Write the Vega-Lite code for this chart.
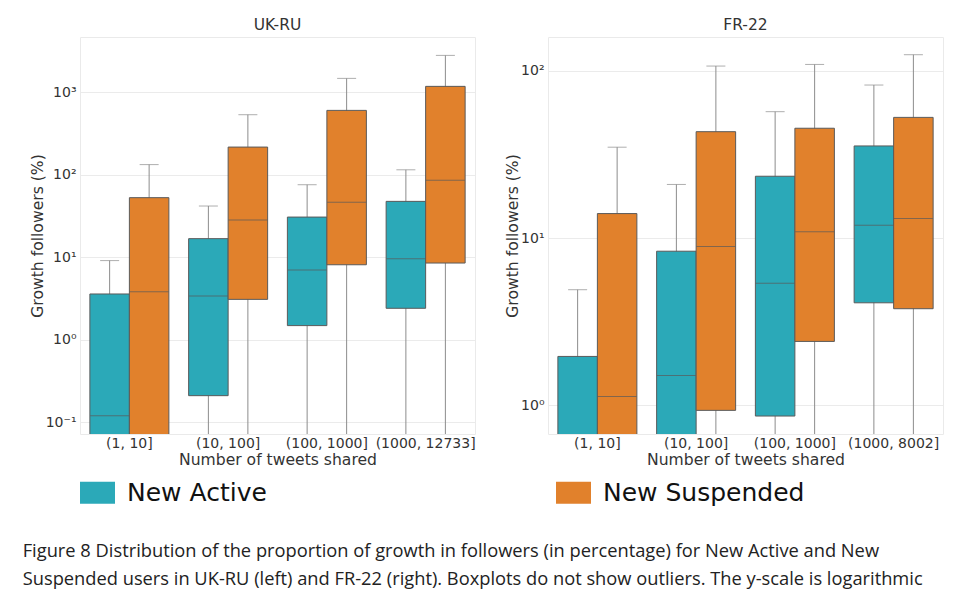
{
  "$schema": "https://vega.github.io/schema/vega-lite/v6.json",
  "background": "white",
  "padding": {"left": 22, "top": 17, "right": 5, "bottom": 8},
  "datasets": {
    "boxes": [
      {"panel": "UK-RU", "bin": "(1, 10]", "group": "New Active", "lo": 0.001, "q1": 0.01, "med": 0.119, "q3": 3.58, "hi": 9.1},
      {"panel": "UK-RU", "bin": "(1, 10]", "group": "New Suspended", "lo": 0.001, "q1": 0.01, "med": 3.82, "q3": 52.8, "hi": 133},
      {"panel": "UK-RU", "bin": "(10, 100]", "group": "New Active", "lo": 0.001, "q1": 0.209, "med": 3.38, "q3": 16.8, "hi": 41.8},
      {"panel": "UK-RU", "bin": "(10, 100]", "group": "New Suspended", "lo": 0.001, "q1": 3.08, "med": 28.3, "q3": 217, "hi": 536},
      {"panel": "UK-RU", "bin": "(100, 1000]", "group": "New Active", "lo": 0.001, "q1": 1.48, "med": 7.0, "q3": 30.7, "hi": 75.8},
      {"panel": "UK-RU", "bin": "(100, 1000]", "group": "New Suspended", "lo": 0.001, "q1": 8.1, "med": 46.3, "q3": 605, "hi": 1479},
      {"panel": "UK-RU", "bin": "(1000, 12733]", "group": "New Active", "lo": 0.001, "q1": 2.4, "med": 9.6, "q3": 47.6, "hi": 115},
      {"panel": "UK-RU", "bin": "(1000, 12733]", "group": "New Suspended", "lo": 0.001, "q1": 8.5, "med": 85.6, "q3": 1183, "hi": 2812},
      {"panel": "FR-22", "bin": "(1, 10]", "group": "New Active", "lo": 0.001, "q1": 0.01, "med": 0.5, "q3": 1.96, "hi": 4.91},
      {"panel": "FR-22", "bin": "(1, 10]", "group": "New Suspended", "lo": 0.001, "q1": 0.01, "med": 1.13, "q3": 14.0, "hi": 34.9},
      {"panel": "FR-22", "bin": "(10, 100]", "group": "New Active", "lo": 0.001, "q1": 0.01, "med": 1.51, "q3": 8.34, "hi": 20.9},
      {"panel": "FR-22", "bin": "(10, 100]", "group": "New Suspended", "lo": 0.001, "q1": 0.933, "med": 8.9, "q3": 43.2, "hi": 106.6},
      {"panel": "FR-22", "bin": "(100, 1000]", "group": "New Active", "lo": 0.001, "q1": 0.863, "med": 5.37, "q3": 23.4, "hi": 56.9},
      {"panel": "FR-22", "bin": "(100, 1000]", "group": "New Suspended", "lo": 0.001, "q1": 2.41, "med": 10.9, "q3": 45.3, "hi": 109},
      {"panel": "FR-22", "bin": "(1000, 8002]", "group": "New Active", "lo": 0.001, "q1": 4.1, "med": 11.9, "q3": 35.5, "hi": 82.1},
      {"panel": "FR-22", "bin": "(1000, 8002]", "group": "New Suspended", "lo": 0.001, "q1": 3.78, "med": 13.1, "q3": 52.6, "hi": 124.6}
    ]
  },
  "data": {"name": "boxes"},
  "spacing": 29,
  "resolve": {"scale": {"color": "shared"}},
  "hconcat": [
    {
      "title": "UK-RU",
      "width": 395,
      "height": 397,
      "transform": [{"filter": "datum.panel == 'UK-RU'"}],
      "encoding": {
        "x": {"field": "bin", "type": "nominal", "sort": ["(1, 10]", "(10, 100]", "(100, 1000]", "(1000, 12733]"], "scale": {"paddingInner": 0.2, "paddingOuter": 0.1}, "axis": {"title": "Number of tweets shared", "labelAngle": 0, "grid": false, "labelPadding": 2, "titlePadding": 2}},
        "xOffset": {"field": "group", "type": "nominal", "sort": ["New Active", "New Suspended"], "scale": {"paddingInner": 0, "paddingOuter": 0}}
      },
      "layer": [
        {"mark": {"type": "rule", "color": "#8c8c8c", "clip": true}, "encoding": {"y": {"field": "lo", "type": "quantitative", "scale": {"type": "log", "domain": [0.0716, 4700], "nice": false}, "axis": {"title": "Growth followers (%)", "values": [0.1, 1, 10, 100, 1000], "labelExpr": "datum.value < 0.5 ? '10⁻¹' : datum.value < 5 ? '10⁰' : datum.value < 50 ? '10¹' : datum.value < 500 ? '10²' : '10³'"}}, "y2": {"field": "hi"}}},
        {"mark": {"type": "tick", "color": "#8c8c8c", "size": 19, "thickness": 1, "clip": true}, "encoding": {"y": {"field": "hi", "type": "quantitative"}}},
        {"mark": {"type": "bar", "stroke": "#5a5a5a", "strokeWidth": 1, "clip": true}, "encoding": {"y": {"field": "q1", "type": "quantitative"}, "y2": {"field": "q3"}, "color": {"field": "group", "type": "nominal", "scale": {"domain": ["New Active", "New Suspended"], "range": ["#2ba9b8", "#e1812c"]}, "legend": {"title": null, "orient": "bottom", "direction": "horizontal", "offset": 6, "symbolType": "M-1,-0.63H1V0.63H-1Z", "symbolSize": 1225, "symbolStrokeWidth": 0, "labelFontSize": 25, "labelColor": "#111", "labelOffset": 12, "columnPadding": 289, "labelLimit": 400}}}},
        {"mark": {"type": "tick", "color": "#5a5a5a", "size": 39, "thickness": 1, "clip": true}, "encoding": {"y": {"field": "med", "type": "quantitative"}}}
      ]
    },
    {
      "title": "FR-22",
      "width": 395,
      "height": 397,
      "transform": [{"filter": "datum.panel == 'FR-22'"}],
      "encoding": {
        "x": {"field": "bin", "type": "nominal", "sort": ["(1, 10]", "(10, 100]", "(100, 1000]", "(1000, 8002]"], "scale": {"paddingInner": 0.2, "paddingOuter": 0.1}, "axis": {"title": "Number of tweets shared", "labelAngle": 0, "grid": false, "labelPadding": 2, "titlePadding": 2}},
        "xOffset": {"field": "group", "type": "nominal", "sort": ["New Active", "New Suspended"], "scale": {"paddingInner": 0, "paddingOuter": 0}}
      },
      "layer": [
        {"mark": {"type": "rule", "color": "#8c8c8c", "clip": true}, "encoding": {"y": {"field": "lo", "type": "quantitative", "scale": {"type": "log", "domain": [0.674, 159], "nice": false}, "axis": {"title": "Growth followers (%)", "values": [1, 10, 100], "labelExpr": "datum.value < 5 ? '10⁰' : datum.value < 50 ? '10¹' : '10²'"}}, "y2": {"field": "hi"}}},
        {"mark": {"type": "tick", "color": "#8c8c8c", "size": 19, "thickness": 1, "clip": true}, "encoding": {"y": {"field": "hi", "type": "quantitative"}}},
        {"mark": {"type": "bar", "stroke": "#5a5a5a", "strokeWidth": 1, "clip": true}, "encoding": {"y": {"field": "q1", "type": "quantitative"}, "y2": {"field": "q3"}, "color": {"field": "group", "type": "nominal"}}},
        {"mark": {"type": "tick", "color": "#5a5a5a", "size": 39, "thickness": 1, "clip": true}, "encoding": {"y": {"field": "med", "type": "quantitative"}}}
      ]
    }
  ],
  "title": {
    "text": ["Figure 8  Distribution of the proportion of growth in followers (in percentage) for New Active and New", "Suspended users in UK-RU (left) and FR-22 (right). Boxplots do not show outliers. The y-scale is logarithmic"],
    "orient": "bottom",
    "anchor": "start",
    "font": "Open Sans",
    "fontSize": 18.3,
    "fontWeight": "normal",
    "color": "#222",
    "lineHeight": 28,
    "offset": 37,
    "dx": -7
  },
  "config": {
    "font": "DejaVu Sans",
    "view": {"stroke": "#eaeaea"},
    "axis": {"labelColor": "#333", "titleColor": "#333", "titleFontWeight": "normal", "labelFontSize": 14, "titleFontSize": 15.6, "gridColor": "#ebebeb", "domain": false, "ticks": false, "labelPadding": 4, "titlePadding": 0},
    "title": {"fontSize": 15.5, "fontWeight": "normal", "color": "#333", "offset": 4}
  }
}
